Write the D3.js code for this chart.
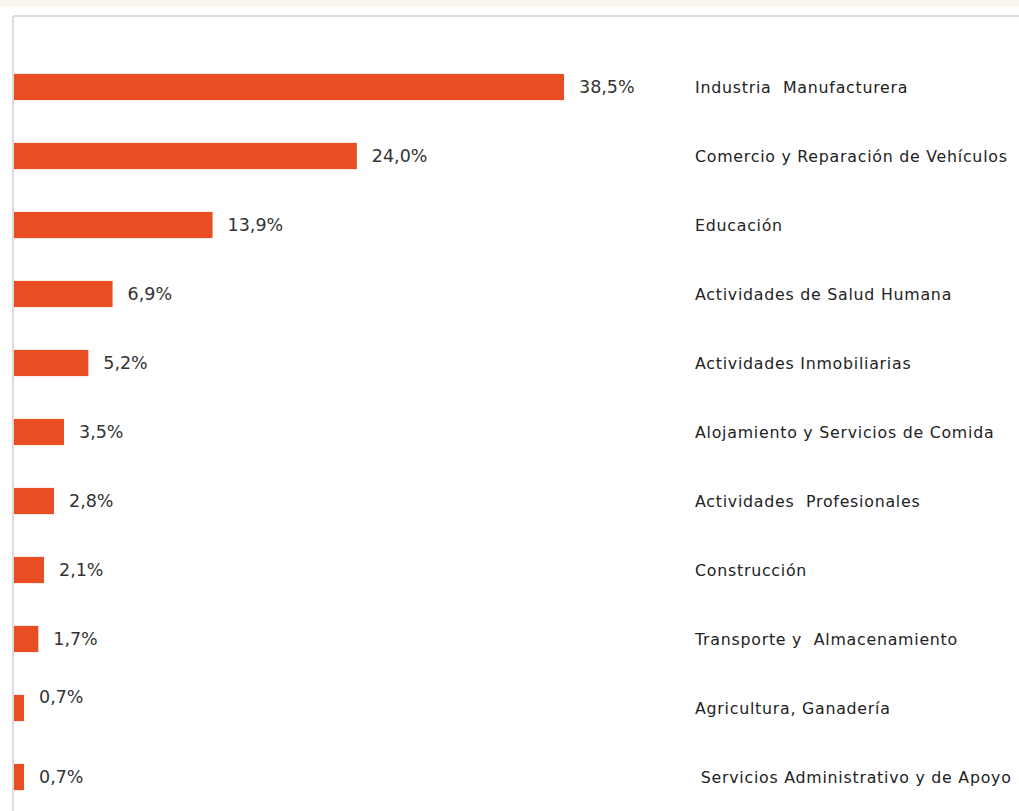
<!DOCTYPE html>
<html>
<head>
<meta charset="utf-8">
<script src="https://cdn.jsdelivr.net/npm/d3@7"></script>
<style>
  html, body { margin: 0; padding: 0; background: #ffffff; }
  svg { display: block; }
  text { white-space: pre; }
</style>
</head>
<body>
<script>
// ---- data ----
const categories = [
  "Industria  Manufacturera",
  "Comercio y Reparación de Vehículos",
  "Educación",
  "Actividades de Salud Humana",
  "Actividades Inmobiliarias",
  "Alojamiento y Servicios de Comida",
  "Actividades  Profesionales",
  "Construcción",
  "Transporte y  Almacenamiento",
  "Agricultura, Ganadería",
  " Servicios Administrativo y de Apoyo"
];
const values = [38.5, 24.0, 13.9, 6.9, 5.2, 3.5, 2.8, 2.1, 1.7, 0.7, 0.7];
const valueLabels = ["38,5%", "24,0%", "13,9%", "6,9%", "5,2%", "3,5%", "2,8%", "2,1%", "1,7%", "0,7%", "0,7%"];

// ---- layout ----
const W = 1019, H = 811;
const x0 = 14;
const svg = d3.select("body").append("svg").attr("width", W).attr("height", H);

// cream strip on top
svg.append("rect").attr("x", 0).attr("y", 0).attr("width", W).attr("height", 7).attr("fill", "#fbf7ec");
// panel border
svg.append("line").attr("x1", 13).attr("x2", W).attr("y1", 16).attr("y2", 16)
  .attr("stroke", "#dcdcdc").attr("stroke-width", 2);
svg.append("line").attr("x1", 13).attr("x2", 13).attr("y1", 16).attr("y2", H)
  .attr("stroke", "#dcdcdc").attr("stroke-width", 2);

const x = d3.scaleLinear().domain([0, 38.5]).range([x0, 564]);
const y = d3.scaleBand().domain(categories).range([52.5, 811.5])
  .paddingInner(0.62).paddingOuter(0.31);

const rows = categories.map((c, i) => ({ c, v: values[i], l: valueLabels[i], i }));

svg.selectAll("rect.bar").data(rows).enter().append("rect")
  .attr("class", "bar")
  .attr("x", x(0))
  .attr("y", d => y(d.c))
  .attr("width", d => x(d.v) - x(0))
  .attr("height", y.bandwidth())
  .attr("fill", "#e84e22");

const font = "'DejaVu Sans', sans-serif";

svg.selectAll("text.val").data(rows).enter().append("text")
  .attr("class", "val")
  .attr("x", d => x(d.v) + 15)
  .attr("y", d => y(d.c) + y.bandwidth() / 2 - (d.i === 9 ? 11 : 0))
  .attr("dy", "0.35em")
  .attr("font-family", font)
  .attr("font-size", 17.5)
  .attr("fill", "#333")
  .text(d => d.l);

svg.selectAll("text.cat").data(rows).enter().append("text")
  .attr("class", "cat")
  .attr("x", 695)
  .attr("y", d => y(d.c) + y.bandwidth() / 2)
  .attr("dy", "0.35em")
  .attr("font-family", font)
  .attr("font-size", 15.8)
  .attr("letter-spacing", 0.75)
  .attr("fill", "#222")
  .text(d => d.c);
</script>
</body>
</html>
